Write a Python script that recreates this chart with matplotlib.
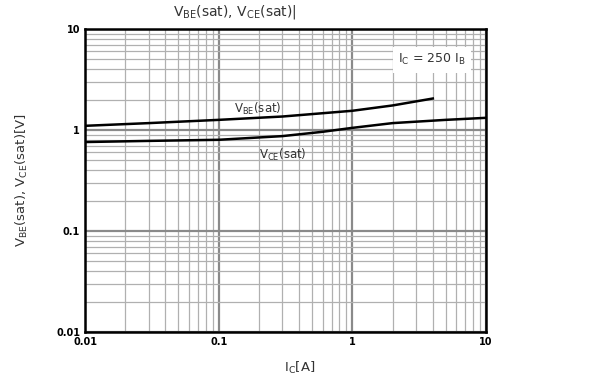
import numpy as np
import matplotlib.pyplot as plt
from matplotlib.ticker import LogLocator, NullFormatter, FixedLocator, FixedFormatter

# collector current [A] and saturation voltages [V]
ic_vbe = [0.01, 0.03, 0.1, 0.3, 1.0, 2.0, 4.0]
vbe_sat = [1.10, 1.17, 1.26, 1.36, 1.55, 1.75, 2.05]

ic_vce = [0.01, 0.03, 0.1, 0.3, 0.6, 1.0, 2.0, 5.0, 10.0]
vce_sat = [0.76, 0.78, 0.80, 0.87, 0.96, 1.05, 1.17, 1.26, 1.32]

decades = [0.01, 0.1, 1, 10]
decade_labels = ['0.01', '0.1', '1', '10']

fig = plt.figure(figsize=(6.01, 3.83), dpi=100)
ax = fig.add_axes([85 / 601, 1 - 332 / 383, 401 / 601, 303 / 383])

ax.set_xscale('log')
ax.set_yscale('log')
ax.set_xlim(0.01, 10)
ax.set_ylim(0.01, 10)

# grid - minor lighter, decades darker
ax.xaxis.set_minor_locator(LogLocator(base=10, subs=np.arange(2, 10)))
ax.yaxis.set_minor_locator(LogLocator(base=10, subs=np.arange(2, 10)))
ax.xaxis.set_minor_formatter(NullFormatter())
ax.yaxis.set_minor_formatter(NullFormatter())
ax.grid(which='minor', color='#b0b0b0', linewidth=0.9)
ax.grid(which='major', color='#8a8a8a', linewidth=1.6)

ax.xaxis.set_major_locator(FixedLocator(decades))
ax.xaxis.set_major_formatter(FixedFormatter(decade_labels))
ax.yaxis.set_major_locator(FixedLocator(decades))
ax.yaxis.set_major_formatter(FixedFormatter(decade_labels))
ax.tick_params(which='both', length=0, labelsize=7)
for lab in ax.get_xticklabels() + ax.get_yticklabels():
    lab.set_fontweight('bold')

for s in ax.spines.values():
    s.set_linewidth(1.8)

ax.plot(ic_vbe, vbe_sat, color='black', linewidth=1.8)
ax.plot(ic_vce, vce_sat, color='black', linewidth=1.8)

ax.text(0.13, 1.48, r'V$_{\mathregular{BE}}$(sat)', fontsize=8.5, color='#333333')
ax.text(0.2, 0.52, r'V$_{\mathregular{CE}}$(sat)', fontsize=8.5, color='#333333')
ax.text(2.2, 4.6, r'I$_{\mathregular{C}}$ = 250 I$_{\mathregular{B}}$', fontsize=9,
        color='#333333', bbox=dict(facecolor='white', edgecolor='none', pad=4))

fig.text(235 / 601, 1 - 12 / 383,
         r'V$_{\mathregular{BE}}$(sat), V$_{\mathregular{CE}}$(sat)|',
         ha='center', va='center', fontsize=10, color='#333333')
fig.text(300 / 601, 1 - 368 / 383, r'I$_{\mathregular{C}}$[A]',
         ha='center', va='center', fontsize=9.5, color='#333333')
fig.text(22 / 601, 1 - 180 / 383,
         r'V$_{\mathregular{BE}}$(sat), V$_{\mathregular{CE}}$(sat)[V]',
         ha='center', va='center', rotation=90, fontsize=9.5, color='#333333')

fig.savefig('out.png', dpi=100)
